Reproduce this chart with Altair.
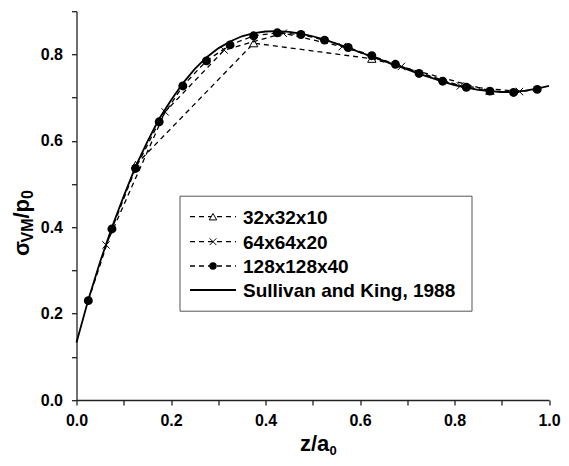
import altair as alt
import pandas as pd

# ---- data ----
z_sk = [0.0, 0.025, 0.05, 0.075, 0.1, 0.125, 0.15, 0.175, 0.2, 0.225, 0.25, 0.275, 0.3,
        0.325, 0.35, 0.375, 0.4, 0.425, 0.45, 0.475, 0.5, 0.525, 0.55, 0.575, 0.6,
        0.625, 0.65, 0.675, 0.7, 0.725, 0.75, 0.775, 0.8, 0.825, 0.85, 0.875, 0.9,
        0.925, 0.95, 0.975, 1.0]
v_sk = [0.133, 0.232, 0.320, 0.400, 0.472, 0.540, 0.598, 0.651, 0.694, 0.733, 0.766,
        0.793, 0.814, 0.830, 0.842, 0.849, 0.853, 0.854, 0.852, 0.848, 0.842, 0.834,
        0.825, 0.815, 0.805, 0.795, 0.785, 0.775, 0.765, 0.755, 0.746, 0.737, 0.729,
        0.723, 0.718, 0.715, 0.713, 0.713, 0.716, 0.721, 0.727]

z_32 = [0.125, 0.375, 0.625, 0.875]
v_32 = [0.544, 0.826, 0.790, 0.716]

z_64 = [0.0625, 0.1875, 0.3125, 0.4375, 0.5625, 0.6875, 0.8125, 0.9375]
v_64 = [0.359, 0.667, 0.810, 0.849, 0.818, 0.772, 0.727, 0.714]

z_128 = [0.025, 0.075, 0.125, 0.175, 0.225, 0.275, 0.325, 0.375, 0.425, 0.475,
         0.525, 0.575, 0.625, 0.675, 0.725, 0.775, 0.825, 0.875, 0.925, 0.975]
v_128 = [0.230, 0.396, 0.536, 0.644, 0.727, 0.785, 0.822, 0.843, 0.850, 0.846,
         0.833, 0.816, 0.797, 0.777, 0.756, 0.738, 0.724, 0.715, 0.712, 0.719]

legend_labels = ["32x32x10", "64x64x20", "128x128x40", "Sullivan and King, 1988"]
x_ticks = [0.0, 0.1, 0.2, 0.3, 0.4, 0.5, 0.6, 0.7, 0.8, 0.9, 1.0]
y_ticks = [0.0, 0.1, 0.2, 0.3, 0.4, 0.5, 0.6, 0.7, 0.8, 0.9]

FONT = "Liberation Sans"
W, H = 472.5, 388.8

df_sk = pd.DataFrame({"z": z_sk, "v": v_sk})
df_32 = pd.DataFrame({"z": z_32, "v": v_32})
df_64 = pd.DataFrame({"z": z_64, "v": v_64})
df_128 = pd.DataFrame({"z": z_128, "v": v_128})
one = pd.DataFrame({"a": [0]})

major = "abs(datum.value*5 - round(datum.value*5)) < 0.000001"
axis_common = dict(
    domainColor="#222", domainWidth=1.3, tickColor="#222", tickWidth=1.3, tickSize=5,
    labelFont=FONT, labelFontWeight="bold", labelFontSize=16, labelColor="black",
    labelExpr=f"{major} ? format(datum.value, '.1f') : ''",
    grid=False, title=None,
)
xs = alt.Scale(domain=[0, 1], nice=False, zero=False)
ys = alt.Scale(domain=[0, 0.9], nice=False, zero=False)
X = alt.X("z:Q", scale=xs, axis=alt.Axis(values=x_ticks, labelPadding=7, labelFlush=False, **axis_common))
Y = alt.Y("v:Q", scale=ys, axis=alt.Axis(values=y_ticks, labelPadding=9, **axis_common))

DASH = [5, 4]
cross_path = "M-1,-1L1,1M-1,1L1,-1"

l32 = alt.Chart(df_32).mark_line(color="black", strokeWidth=1.3, strokeDash=DASH).encode(x=X, y=Y)
p32 = alt.Chart(df_32).mark_point(shape="triangle-up", filled=True, fill="white", stroke="black",
                                  strokeWidth=1, size=70, opacity=1).encode(x=X, y=Y)
l64 = alt.Chart(df_64).mark_line(color="black", strokeWidth=1.3, strokeDash=DASH).encode(x=X, y=Y)
p64 = alt.Chart(df_64).mark_point(shape=cross_path, filled=False, stroke="black",
                                  strokeWidth=1, size=55, opacity=1).encode(x=X, y=Y)
l128 = alt.Chart(df_128).mark_line(color="black", strokeWidth=1.3, strokeDash=DASH).encode(x=X, y=Y)
p128 = alt.Chart(df_128).mark_circle(color="black", size=80, opacity=1).encode(x=X, y=Y)
lsk = alt.Chart(df_sk).mark_line(color="black", strokeWidth=1.8).encode(x=X, y=Y)

layers = [l32, p32, l64, p64, l128, p128, lsk]

# ---- legend (drawn by hand) ----
box = alt.Chart(one).mark_rect(fill="white", stroke="#555", strokeWidth=1).encode(
    x=alt.value(103.5), x2=alt.value(395.5), y=alt.value(185), y2=alt.value(300))
layers.append(box)
row_y = [205.5, 230.5, 254.8, 278.8]
for i, lab in enumerate(legend_labels):
    yy = row_y[i]
    if i < 3:
        layers.append(alt.Chart(one).mark_rule(color="black", strokeWidth=1.3, strokeDash=DASH).encode(
            x=alt.value(113.5), x2=alt.value(159.5), y=alt.value(yy)))
    else:
        layers.append(alt.Chart(one).mark_rule(color="black", strokeWidth=1.8).encode(
            x=alt.value(113.5), x2=alt.value(159.5), y=alt.value(yy)))
    if i == 0:
        layers.append(alt.Chart(one).mark_point(shape="triangle-up", filled=True, fill="white", stroke="black",
                                                strokeWidth=1, size=55, opacity=1).encode(
            x=alt.value(136.5), y=alt.value(yy)))
    elif i == 1:
        layers.append(alt.Chart(one).mark_point(shape=cross_path, filled=False, stroke="black",
                                                strokeWidth=1, size=45, opacity=1).encode(
            x=alt.value(136.5), y=alt.value(yy)))
    elif i == 2:
        layers.append(alt.Chart(one).mark_circle(color="black", size=55, opacity=1).encode(
            x=alt.value(136.5), y=alt.value(yy)))
    layers.append(alt.Chart(one).mark_text(align="left", baseline="middle", font=FONT, fontWeight="bold",
                                           fontSize=19, color="black").encode(
        x=alt.value(166.5), y=alt.value(yy + 1), text=alt.value(lab)))

# ---- axis titles with subscripts ----
def txt(s, x, y, size, angle=0):
    kw = dict(align="left", baseline="alphabetic", font=FONT, fontWeight="bold",
              fontSize=size, color="black")
    if angle:
        kw["angle"] = angle
    return alt.Chart(one).mark_text(**kw).encode(x=alt.value(x), y=alt.value(y), text=alt.value(s))

layers += [
    txt("z/a", 223.5, 439.5, 22),
    txt("0", 253, 443.3, 13),
    txt("σ", -48, 244.8, 22, 270),
    txt("VM", -44, 231.3, 16, 270),
    txt("/p", -48, 207.3, 22, 270),
    txt("0", -44, 187.8, 16, 270),
]

chart = alt.layer(*layers).properties(
    width=W, height=H,
    autosize=alt.AutoSizeParams(type="none"),
    padding={"left": 68.5, "top": 3.2, "right": 12, "bottom": 58},
).configure_view(stroke=None)

chart.save("out.html", embed_options={"renderer": "svg", "actions": False})
